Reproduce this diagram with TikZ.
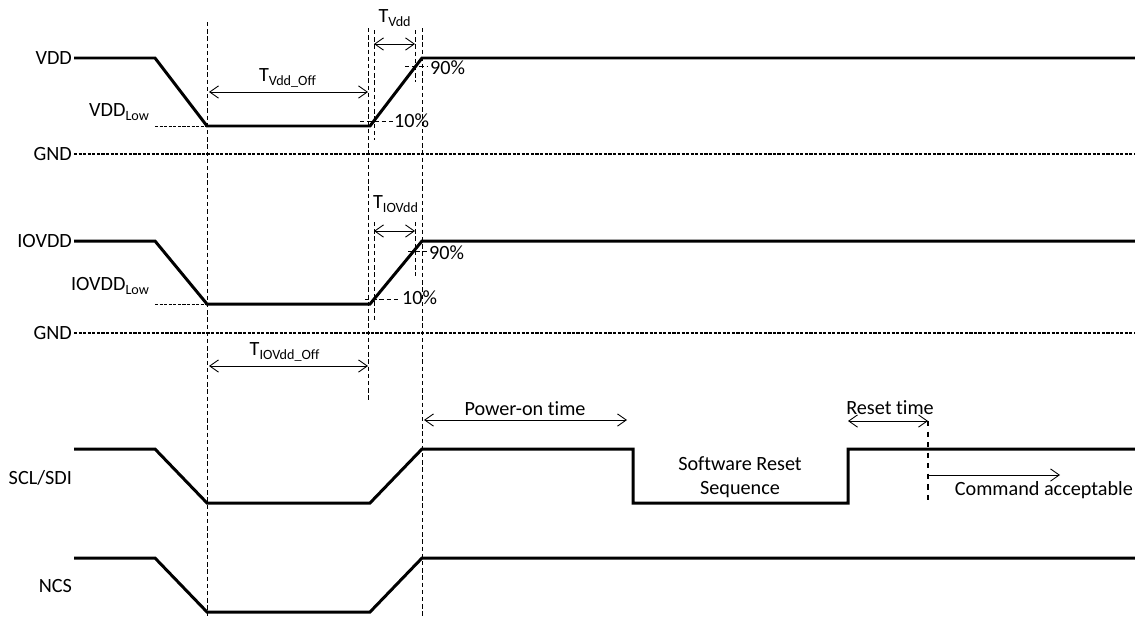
\documentclass[tikz,border=0pt]{standalone}
\usepackage{fontspec}
\setmainfont{Carlito}[Ligatures=NoCommon]
\usetikzlibrary{arrows.meta}
\tikzset{
  sig/.style={line width=1.7pt, line join=miter},
  guide/.style={dash pattern=on 2.5pt off 1.6pt, line width=0.5pt},
  gnd/.style={dash pattern=on 1.8pt off 0.8pt, line width=0.7pt},
  span/.style={<->, line width=0.5pt},
  lbl/.style={font=\fontsize{11.5}{13.5}\selectfont, inner sep=1pt},
}
\begin{document}
\begin{tikzpicture}[x=0.02cm, y=-0.02cm, >={Straight Barb[length=5pt,width=7pt]}]
            \useasboundingbox (0,0) rectangle (1135,616);
            % vertical guides
            \draw[guide] (207,22)--(207,616);
            \draw[guide] (368,28)--(368,400);
            \draw[guide] (422,28)--(422,616);
            \draw[guide] (374,30)--(374,140);
            \draw[guide] (415,30)--(415,82);
            \draw[guide] (374,222)--(374,322);
            \draw[guide] (415,222)--(415,276);
            % VDD
            \draw[sig] (74,58)--(155,58)--(207,126)--(370,126)--(422,58)--(1135,58);
            \node[lbl, anchor=east] (vdd) at (74,58) {VDD};
            \node[lbl, anchor=east] (vddlow) at (152,112) {VDD\textsubscript{Low}};
            \draw[gnd, line width=0.5pt] (155,126)--(207,126);
            \draw[gnd] (74,154)--(1135,154);
            \node[lbl, anchor=east] (gnd1) at (74,154) {GND};
            \draw[span] (374,44)--(415,44);
            \node[lbl] (tvdd) at (395,18) {T\textsubscript{Vdd}};
            \draw[span] (209,92)--(368,92);
            \node[lbl] (tvddoff) at (288,78) {T\textsubscript{Vdd\_Off}};
            \draw[guide] (360,121)--(396,121);
            \node[lbl, anchor=west] (p10a) at (392,121) {10\%};
            \draw[guide] (405,66)--(428,66);
            \node[lbl, anchor=west] (p90a) at (428,68) {90\%};
            % IOVDD
            \draw[sig] (74,241)--(155,241)--(207,304)--(370,304)--(422,241)--(1135,241);
            \node[lbl, anchor=east] (iovdd) at (74,241) {IOVDD};
            \node[lbl, anchor=east] (iovddlow) at (152,286) {IOVDD\textsubscript{Low}};
            \draw[gnd, line width=0.5pt] (155,304)--(207,304);
            \draw[gnd] (74,333)--(1135,333);
            \node[lbl, anchor=east] (gnd2) at (74,333) {GND};
            \draw[span] (374,231)--(415,231);
            \node[lbl] (tiovdd) at (396,204) {T\textsubscript{IOVdd}};
            \draw[guide] (365,299)--(400,299);
            \node[lbl, anchor=west] (p10b) at (400,298) {10\%};
            \draw[guide] (408,251)--(428,251);
            \node[lbl, anchor=west] (p90b) at (427,253) {90\%};
            \draw[span] (209,366)--(368,366);
            \node[lbl] (tiovddoff) at (285,352) {T\textsubscript{IOVdd\_Off}};
            % SCL/SDI
            \draw[sig] (74,449)--(155,449)--(207,503)--(370,503)--(422,449)--(633,449)--(633,503)
                --(848,503)--(848,449)--(1135,449);
            \node[lbl, anchor=east] (scl) at (74,478) {SCL/SDI};
            \node[lbl, align=center] (swreset) at (740,477) {Software Reset\\Sequence};
            \draw[span] (424,420)--(627,420);
            \node[lbl] (poweron) at (525,409) {Power-on time};
            \draw[span] (848,421)--(928,421);
            \node[lbl] (resettime) at (890,408) {Reset time};
            \draw[dashed, line width=1.5pt] (928,421)--(928,503);
            \draw[->, line width=0.5pt] (929,475)--(1060,475);
            \node[lbl, anchor=east] (cmd) at (1135,490) {Command acceptable};
            % NCS
            \draw[sig] (74,558)--(155,558)--(207,612)--(370,612)--(422,558)--(1135,558);
            \node[lbl, anchor=east] (ncs) at (74,586) {NCS};
\end{tikzpicture}
\end{document}
